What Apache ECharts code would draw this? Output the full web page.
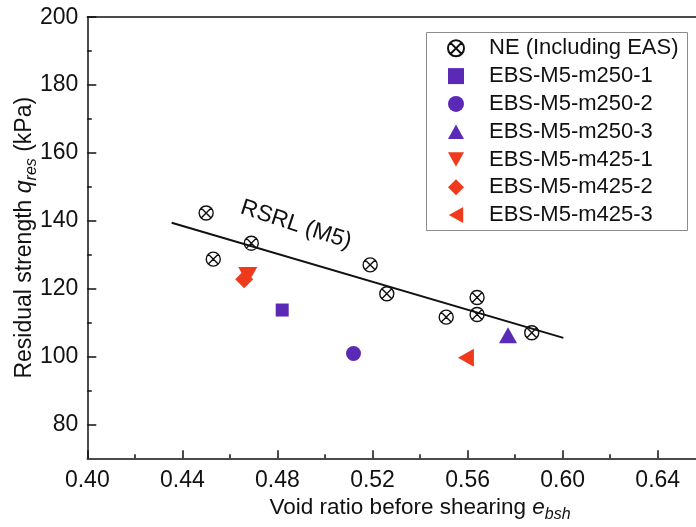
<!DOCTYPE html>
<html>
<head>
<meta charset="utf-8">
<script src="https://cdn.jsdelivr.net/npm/echarts@6/dist/echarts.min.js"></script>
<style>
html,body{margin:0;padding:0;background:#fff;}
#c{width:696px;height:527px;}
</style>
</head>
<body>
<div id="c"></div>
<script>
// ---- data ----
const neName = 'NE (Including EAS)';
const neVoid = [0.450, 0.453, 0.469, 0.519, 0.526, 0.551, 0.564, 0.564, 0.587];
const neStrength = [142.3, 128.7, 133.4, 127.0, 118.5, 111.6, 117.4, 112.4, 107.0];

const ebsNames = ['EBS-M5-m250-1', 'EBS-M5-m250-2', 'EBS-M5-m250-3', 'EBS-M5-m425-1', 'EBS-M5-m425-2', 'EBS-M5-m425-3'];
const ebsVoid = [0.482, 0.512, 0.577, 0.4675, 0.466, 0.5593];
const ebsStrength = [113.7, 100.9, 106.3, 123.9, 122.8, 99.6];

const rsrlName = 'RSRL (M5)';
const rsrlVoid = [0.4355, 0.6003];
const rsrlStrength = [139.4, 105.5];
const rsrlLabelPos = [0.4878, 138.8];

const xTickValues = [0.40, 0.44, 0.48, 0.52, 0.56, 0.60, 0.64];
const yMajorTicks = [80, 100, 120, 140, 160, 180, 200];
const yMinorTicks = [90, 110, 130, 150, 170, 190];

// ---- styles ----
const FONT = '"Liberation Sans", Arial, sans-serif';
const INK = '#111';
const PURPLE = '#5a29b6';
const RED = '#f03a1c';
const neSymbol = 'path://M0,10A10,10,0,1,1,20,10A10,10,0,1,1,0,10ZM2.93,2.93L17.07,17.07M17.07,2.93L2.93,17.07';
const triUp = 'path://M10,0L20,18L0,18Z';
const triDown = 'path://M0,0L20,0L10,18Z';
const triLeft = 'path://M0,10L18,0L18,20Z';
const ebsStyle = [
  {symbol: 'rect', size: 13, color: PURPLE},
  {symbol: 'circle', size: 15, color: PURPLE},
  {symbol: triUp, size: [18, 16], color: PURPLE},
  {symbol: triDown, size: [19, 17], color: RED},
  {symbol: 'diamond', size: 18, color: RED},
  {symbol: triLeft, size: [16, 18], color: RED}
];

const chart = echarts.init(document.getElementById('c'), null, {renderer: 'canvas'});

const series = [];
series.push({
  type: 'line', name: rsrlName,
  data: rsrlVoid.map((v, i) => [v, rsrlStrength[i]]),
  symbol: 'none', lineStyle: {color: INK, width: 2}, z: 2, silent: true
});
series.push({
  type: 'scatter', name: rsrlName + ' label',
  data: [rsrlLabelPos], symbolSize: 0, silent: true,
  itemStyle: {color: INK, opacity: 1},
  label: {show: true, position: 'inside', formatter: rsrlName, rotate: -18,
    fontSize: 23, fontFamily: FONT, color: INK, textBorderWidth: 0, textBorderColor: 'transparent'}
});
series.push({
  type: 'scatter', name: neName,
  data: neVoid.map((v, i) => [v, neStrength[i]]),
  symbol: neSymbol, symbolSize: 14,
  itemStyle: {color: 'rgba(0,0,0,0)', borderColor: '#111', borderWidth: 1.4, opacity: 1}, z: 3
});
ebsNames.forEach((n, i) => {
  const s = ebsStyle[i];
  series.push({
    type: 'scatter', name: n,
    data: [[ebsVoid[i], ebsStrength[i]]],
    symbol: s.symbol, symbolSize: s.size,
    itemStyle: {color: s.color, opacity: 1}, z: 3
  });
});

const legendData = [{name: neName, icon: neSymbol}].concat(ebsNames.map((n, i) => ({
  name: n, icon: ebsStyle[i].symbol
})));

const option = {
  backgroundColor: '#fff',
  animation: false,
  textStyle: {fontFamily: FONT},
  grid: {left: 87.3, top: 17.2, bottom: 68.7, right: -56.8, containLabel: false, outerBoundsMode: 'none'},
  graphic: [{
    type: 'rect', left: 426, top: 32, z: 0,
    shape: {width: 261, height: 198},
    style: {fill: '#fff', stroke: '#8c8c8c', lineWidth: 1}
  }],
  legend: {
    orient: 'vertical', left: 447, top: 36.3, padding: 0, z: 5,
    itemWidth: 16, itemHeight: 16, itemGap: 3.8,
    data: legendData,
    textStyle: {fontSize: 22, fontFamily: FONT, color: INK, lineHeight: 24, padding: [0, 0, 0, 20]},
    selectedMode: false
  },
  xAxis: [{
    type: 'value', position: 'bottom', min: 0.40, max: 0.68, interval: 0.04,
    axisLine: {show: true, lineStyle: {color: INK, width: 1.5}},
    axisTick: {show: true, inside: true, length: 8, lineStyle: {color: INK, width: 1.5}},
    minorTick: {show: true, splitNumber: 2, length: 4, lineStyle: {color: INK, width: 1.5}},
    splitLine: {show: false},
    axisLabel: {margin: 11, fontSize: 23, fontFamily: FONT, color: INK,
      formatter: v => (xTickValues.some(t => Math.abs(t - v) < 1e-6) ? v.toFixed(2) : '')},
    name: '{n|Void ratio before shearing }{i|e}{s|bsh}',
    nameLocation: 'middle', nameGap: 34.7, nameMoveOverlap: false,
    nameTextStyle: {color: INK, fontFamily: FONT, fontSize: 22.5,
      rich: {
        n: {fontSize: 22.5, lineHeight: 30, fontFamily: FONT, color: INK},
        i: {fontSize: 22.5, lineHeight: 30, fontStyle: 'italic', fontFamily: FONT, color: INK},
        s: {fontSize: 16, lineHeight: 16, fontStyle: 'italic', verticalAlign: 'bottom', fontFamily: FONT, color: INK}
      }}
  }, {
    type: 'value', position: 'top', min: 0.40, max: 0.68, interval: 0.04,
    axisLine: {show: true, lineStyle: {color: INK, width: 1.5}},
    axisTick: {show: false}, axisLabel: {show: false}, splitLine: {show: false}
  }],
  yAxis: [{
    type: 'value', position: 'left', min: 70, max: 200, interval: 10,
    axisLine: {show: true, lineStyle: {color: INK, width: 1.5}},
    axisTick: {show: true, inside: true, length: 9, customValues: yMajorTicks, lineStyle: {color: INK, width: 1.5}},
    splitLine: {show: false},
    axisLabel: {margin: 9, fontSize: 23, fontFamily: FONT, color: INK, customValues: yMajorTicks,
      formatter: v => String(v)},
    name: '{n|Residual strength }{i|q}{s|res}{n| (kPa)}',
    nameLocation: 'middle', nameGap: 48, nameMoveOverlap: false,
    nameTextStyle: {color: INK, fontFamily: FONT, fontSize: 23,
      rich: {
        n: {fontSize: 23, lineHeight: 30, fontFamily: FONT, color: INK},
        i: {fontSize: 23, lineHeight: 30, fontStyle: 'italic', fontFamily: FONT, color: INK},
        s: {fontSize: 16, lineHeight: 16, fontStyle: 'italic', verticalAlign: 'bottom', fontFamily: FONT, color: INK}
      }}
  }, {
    type: 'value', position: 'left', min: 70, max: 200, interval: 10,
    axisLine: {show: false},
    axisTick: {show: true, inside: true, length: 4.5, customValues: yMinorTicks, lineStyle: {color: INK, width: 1.5}},
    axisLabel: {show: false}, splitLine: {show: false}
  }],
  series: series
};
chart.setOption(option);
</script>
</body>
</html>
